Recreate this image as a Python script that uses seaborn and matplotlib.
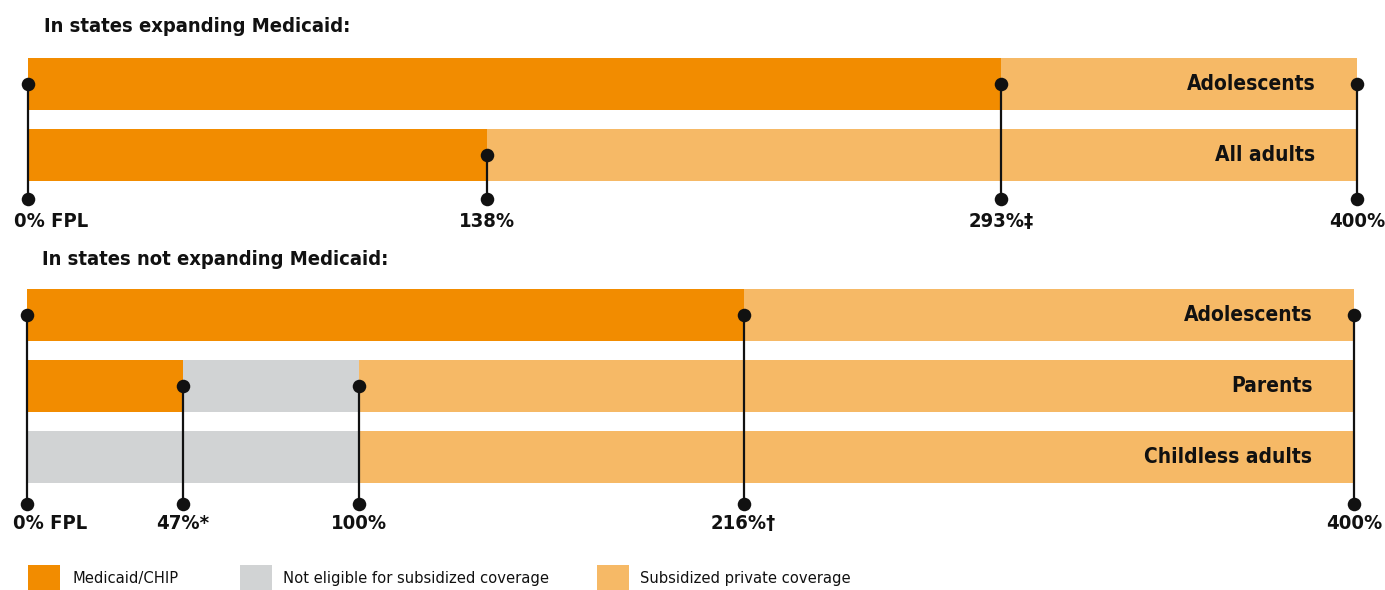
import matplotlib
matplotlib.use("Agg")
import matplotlib.pyplot as plt
from matplotlib import font_manager
from matplotlib.patches import Rectangle
import numpy as np
import seaborn as sns

# ---- data -------------------------------------------------------------
expand_groups = ["Adolescents", "All adults"]
expand_medicaid = [293, 138]
expand_not_eligible = [0, 0]
expand_subsidized = [107, 262]
expand_cutoffs = [0, 138, 293, 400]
expand_cutoff_rows = [0, 1, 0, 0]
expand_cutoff_labels = ["0% FPL", "138%", "293%\u2021", "400%"]

nonexp_groups = ["Adolescents", "Parents", "Childless adults"]
nonexp_medicaid = [216, 47, 0]
nonexp_not_eligible = [0, 53, 100]
nonexp_subsidized = [184, 300, 300]
nonexp_cutoffs = [0, 47, 100, 216, 400]
nonexp_cutoff_rows = [0, 1, 1, 0, 0]
nonexp_cutoff_labels = ["0% FPL", "47%*", "100%", "216%\u2020", "400%"]

panel_titles = ["In states expanding Medicaid:", "In states not expanding Medicaid:"]
legend_labels = ["Medicaid/CHIP", "Not eligible for subsidized coverage",
                 "Subsidized private coverage"]

# ---- style ------------------------------------------------------------
C_MEDICAID = "#F28C00"
C_NOTELIG = "#D1D3D4"
C_SUBSID = "#F6B966"
C_INK = "#111111"

sns.set_style("white")
names = {f.name for f in font_manager.fontManager.ttflist}
narrow = "Liberation Sans Narrow" if "Liberation Sans Narrow" in names else "DejaVu Sans"
plt.rcParams["font.family"] = [narrow, "DejaVu Sans"]
plt.rcParams["font.stretch"] = "condensed"

W, H, DPI = 1385, 590, 100
fig = plt.figure(figsize=(W / DPI, H / DPI), dpi=DPI)
PITCH = 71.0  # pixels between bar rows

BOLD = dict(fontweight="bold", fontstretch="condensed", color=C_INK)


def make_axes(x0, x1, y_top, y_bot, row0_center):
    ax = fig.add_axes([x0 / W, 1 - y_bot / H, (x1 - x0) / W, (y_bot - y_top) / H])
    return ax, ((y_bot - row0_center) / PITCH, (y_top - row0_center) / PITCH)


def draw_panel(ax, ylim, groups, med, notel, subs, cuts, cut_rows, cut_labels,
               base_off, label_gap):
    med = np.array(med)
    notel = np.array(notel)
    subs = np.array(subs)
    # stacked segments drawn as overlapping cumulative bars
    ends = [(med + notel + subs, C_SUBSID), (med + notel, C_NOTELIG), (med, C_MEDICAID)]
    for vals, col in ends:
        sns.barplot(x=vals, y=groups, orient="h", color=col, saturation=1,
                    width=52 / PITCH, linewidth=0, ax=ax, zorder=1)
    ax.set_xlim(0, 400)
    ax.set_ylim(*ylim)
    ax.set_axis_off()

    # cutoff pins: dot on the row, stem down to a baseline dot, label under it
    base = len(groups) - 1 + base_off
    for x, r in zip(cuts, cut_rows):
        ax.plot([x, x], [r, base], color=C_INK, lw=1.6, zorder=3,
                solid_capstyle="butt", clip_on=False)
    sns.scatterplot(x=list(cuts) + list(cuts),
                    y=list(cut_rows) + [base] * len(cuts),
                    color=C_INK, s=95, linewidth=0, ax=ax, zorder=4,
                    clip_on=False, legend=False)
    for x, lab in zip(cuts, cut_labels):
        dx, ha = (-10, "left") if x == 0 else (0, "center")
        ax.annotate(lab, (x, base), xytext=(dx, -label_gap),
                    textcoords="offset points", ha=ha, va="top",
                    fontsize=14.5, **BOLD)
    for i, g in enumerate(groups):
        ax.annotate(g, (400, i), xytext=(-30, 0), textcoords="offset points",
                    ha="right", va="center", fontsize=15, **BOLD)
    ax.set_xlabel("")
    ax.set_ylabel("")


ax1, ylim1 = make_axes(28, 1357, 40, 240, 84)
draw_panel(ax1, ylim1, expand_groups, expand_medicaid, expand_not_eligible,
           expand_subsidized, expand_cutoffs, expand_cutoff_rows,
           expand_cutoff_labels, 0.62, 9)

ax2, ylim2 = make_axes(27, 1354, 275, 545, 315)
draw_panel(ax2, ylim2, nonexp_groups, nonexp_medicaid, nonexp_not_eligible,
           nonexp_subsidized, nonexp_cutoffs, nonexp_cutoff_rows,
           nonexp_cutoff_labels, 0.66, 7)

fig.text(44 / W, 1 - 26 / H, panel_titles[0], ha="left", va="center",
         fontsize=14.5, **BOLD)
fig.text(42 / W, 1 - 260 / H, panel_titles[1], ha="left", va="center",
         fontsize=14.5, **BOLD)

# legend row
for (px, tx), col, lab in zip([(28, 72), (240, 283), (597, 640)],
                              [C_MEDICAID, C_NOTELIG, C_SUBSID], legend_labels):
    fig.patches.append(Rectangle((px / W, 1 - 591 / H), 32 / W, 26 / H,
                                 transform=fig.transFigure, color=col,
                                 linewidth=0))
    fig.text(tx / W, 1 - 579 / H, lab, ha="left", va="center",
             fontsize=11.8, fontstretch="condensed", color=C_INK)

fig.savefig("out.png", dpi=DPI, facecolor="white")
